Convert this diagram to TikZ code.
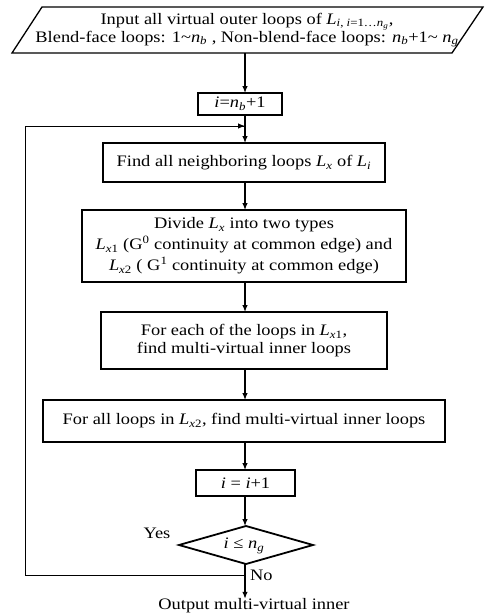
\documentclass[tikz,border=0pt]{standalone}
\usepackage{fontspec}
\setmainfont{Liberation Serif}[FakeStretch=1.15]
\usetikzlibrary{shapes.geometric,arrows.meta}
\newcommand{\vi}[1]{\textit{#1}}
\newcommand{\sbs}[1]{\textsubscript{#1}}
\begin{document}
\begin{tikzpicture}[x=1pt,y=-1pt,
  every node/.style={inner sep=0pt,outer sep=0pt,font=\fontsize{16}{16}\selectfont},
  procbox/.style={draw,line width=1.8pt,align=center,anchor=center},
  flow/.style={line width=1.2pt,-{Latex[length=7pt,width=5.5pt]}},
  back/.style={line width=0.9pt}]
\useasboundingbox (0,0) rectangle (486,614);
% input parallelogram
\draw[line width=1.3pt] (42,7) -- (483,7) -- (452,53) -- (12,53) -- cycle;
\node[align=center] (input) at (247,30)
  {Input all virtual outer loops of \vi{L}\sbs{\vi{i}, \vi{i}=1…\vi{n}\sbs{\vi{g}}},\\
   Blend-face loops: 1\textasciitilde\vi{n}\sbs{\vi{b}} , Non-blend-face loops: \vi{n}\sbs{\vi{b}}+1\textasciitilde\ \vi{n}\sbs{\vi{g}}};
\coordinate (ax) at (245,0);
\coordinate (intop) at (245,53);
\node[procbox,minimum width=84pt,minimum height=22pt] (init) at (240,104) {\vi{i}=\vi{n}\sbs{\vi{b}}+1};
\node[procbox,minimum width=282pt,minimum height=39pt] (find) at (244,162.5) {Find all neighboring loops \vi{L}\sbs{\vi{x}} of \vi{L}\sbs{\vi{i}}};
\node[procbox,minimum width=324pt,minimum height=72pt] (divide) at (244,246)
  {Divide \vi{L}\sbs{\vi{x}} into two types\\[3pt]
   \vi{L}\sbs{\vi{x}1} (G\textsuperscript{0} continuity at common edge) and\\[3pt]
   \vi{L}\sbs{\vi{x}2} ( G\textsuperscript{1} continuity at common edge)};
\node[procbox,minimum width=286pt,minimum height=57pt] (foreach) at (244,340.5)
  {For each of the loops in \vi{L}\sbs{\vi{x}1},\\[2pt] find multi-virtual inner loops};
\node[procbox,minimum width=402pt,minimum height=42pt] (forall) at (244,421)
  {For all loops in \vi{L}\sbs{\vi{x}2}, find multi-virtual inner loops};
\node[procbox,minimum width=99pt,minimum height=26pt] (incr) at (245.5,483) {\vi{i} = \vi{i}+1};
\node[draw,diamond,line width=1.8pt,minimum width=134pt,minimum height=38pt,aspect=3.5] (cond) at (246,545) {};
\node at (244,546) {\vi{i} ≤ \vi{n}\sbs{\vi{g}}};
\node (yes) at (157,533) {Yes};
\node[anchor=west] (no) at (250,575) {No};
\node (out) at (254,606) {Output multi-virtual inner};
% connectors
\draw[flow] (intop) -- (init.north -| ax);
\draw[flow] (init.south -| ax) -- (find.north -| ax);
\draw[flow] (find.south -| ax) -- (divide.north -| ax);
\draw[flow] (divide.south -| ax) -- (foreach.north -| ax);
\draw[flow] (foreach.south -| ax) -- (forall.north -| ax);
\draw[flow] (forall.south -| ax) -- (incr.north -| ax);
\draw[flow] (incr.south -| ax) -- (cond.north -| ax);
\coordinate (split) at (245,575);
\coordinate (loopin) at (245,126);
\draw[flow] (cond.south -| ax) -- (out.north -| ax);
\draw[back] (split) -- (25,575) -- (25,126) -- (loopin);
\draw[flow,line width=0.9pt] (200,126) -- (loopin);
\end{tikzpicture}
\end{document}
